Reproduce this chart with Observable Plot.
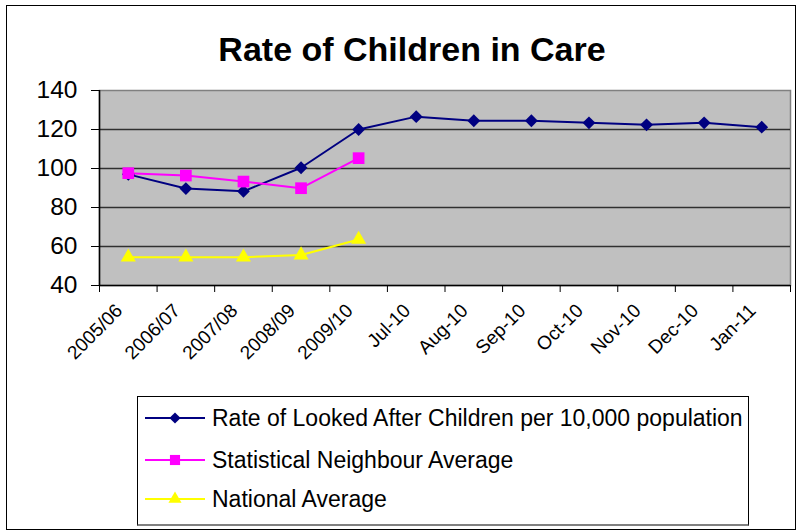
<!DOCTYPE html>
<html><head><meta charset="utf-8">
<script src="https://cdn.jsdelivr.net/npm/d3@7"></script>
<script src="https://cdn.jsdelivr.net/npm/@observablehq/plot@0.6"></script>
<style>
body{margin:0;background:#fff;font-family:Arial,"Liberation Sans",sans-serif;}
#wrap{position:relative;width:799px;height:532px;overflow:hidden;background:#fff;}
#border{position:absolute;left:6px;top:5px;width:790px;height:525px;border:1px solid #000;box-sizing:border-box;}
#title{position:absolute;left:0;width:824px;top:32px;text-align:center;font-weight:bold;font-size:34px;line-height:34px;color:#000;}
#chart{position:absolute;left:0;top:0;}
#legend{position:absolute;left:137px;top:396px;width:612px;height:130px;border:1px solid #000;border-bottom:2px solid #808080;box-sizing:border-box;background:#fff;}
.row{position:absolute;left:6px;height:30px;display:flex;align-items:center;font-size:23px;color:#000;white-space:nowrap;}
.row svg{margin-right:6px;}
</style></head>
<body>
<div id="wrap">
  <div id="border"></div>
  <div id="chart"></div>
  <div id="title">Rate of Children in Care</div>
  <div id="legend"></div>
</div>
<script>
// ---- data ----
const categories = ["2005/06","2006/07","2007/08","2008/09","2009/10","Jul-10","Aug-10","Sep-10","Oct-10","Nov-10","Dec-10","Jan-11"];
const rateLAC = [97, 89.7, 88.3, 100.4, 120, 126.6, 124.5, 124.5, 123.4, 122.4, 123.4, 121.2];
const statNeighbour = [97.6, 96.4, 93.3, 89.9, 105.3];
const national = [54.5, 54.5, 54.5, 55.6, 63.6];
const yTicks = [40, 60, 80, 100, 120, 140];
const seriesNames = ["Rate of Looked After Children per 10,000 population", "Statistical Neighbour Average", "National Average"];
const seriesColors = ["#000080", "#FF00FF", "#FFFF00"];
const seriesSymbols = ["diamond2", "square", "triangle"];
const seriesR = [5.8, 6.6, 5.6];

const toRows = (vals) => vals.map((v, i) => ({i, v}));
const series = [rateLAC, statNeighbour, national].map(toRows);

const idx = categories.map((_, i) => i);
const bounds = d3.range(categories.length + 1).map(i => i - 0.5);

const lineMarks = [];
series.forEach((rows, k) => {
  lineMarks.push(Plot.lineY(rows, {x: "i", y: "v", stroke: seriesColors[k], strokeWidth: 2}));
});
series.forEach((rows, k) => {
  lineMarks.push(Plot.dot(rows, {x: "i", y: "v", symbol: seriesSymbols[k], fill: seriesColors[k], r: seriesR[k], stroke: "none"}));
});

const chart = Plot.plot({
  width: 799,
  height: 390,
  marginTop: 90,
  marginLeft: 99,
  marginRight: 9,
  marginBottom: 105,
  style: {fontFamily: "Arial, 'Liberation Sans', sans-serif", background: "transparent", color: "#000"},
  x: {type: "linear", domain: [-0.5, categories.length - 0.5]},
  y: {domain: [40, 140]},
  marks: [
    Plot.frame({fill: "#C0C0C0", stroke: "#808080", strokeWidth: 1.5}),
    Plot.gridY(yTicks.slice(1, -1), {stroke: "#000", strokeOpacity: 0.75, strokeWidth: 1.3}),
    Plot.ruleY([40], {stroke: "#000", strokeWidth: 1.5}),
    Plot.ruleX([-0.5], {stroke: "#000", strokeWidth: 1.5}),
    Plot.axisY(yTicks, {tickSize: 8, tickPadding: 14, fontSize: 24.5, label: null, stroke: "#000"}),
    Plot.axisX(bounds, {tickSize: 7, tickFormat: () => "", label: null, stroke: "#000"}),
    Plot.axisX(idx, {tickSize: 0, tickPadding: 22, dx: -9, tickRotate: -45, fontSize: 19, tickFormat: i => categories[i], label: null}),
    ...lineMarks
  ]
});
document.getElementById("chart").appendChild(chart);

// ---- legend ----
const legend = document.getElementById("legend");
const rowTops = [6, 48, 87];
seriesNames.forEach((name, k) => {
  const row = document.createElement("div");
  row.className = "row";
  row.style.top = rowTops[k] + "px";
  const svg = d3.create("svg").attr("width", 62).attr("height", 20);
  svg.append("line").attr("x1", 1).attr("x2", 61).attr("y1", 10).attr("y2", 10)
    .attr("stroke", seriesColors[k]).attr("stroke-width", 2);
  const sym = {diamond2: d3.symbolDiamond2, square: d3.symbolSquare, triangle: d3.symbolTriangle}[seriesSymbols[k]];
  svg.append("path").attr("transform", "translate(31,10)")
    .attr("d", d3.symbol(sym, Math.PI * seriesR[k] * seriesR[k] * 0.75)())
    .attr("fill", seriesColors[k]);
  row.appendChild(svg.node());
  const span = document.createElement("span");
  span.textContent = name;
  row.appendChild(span);
  legend.appendChild(row);
});
</script>
</body></html>
